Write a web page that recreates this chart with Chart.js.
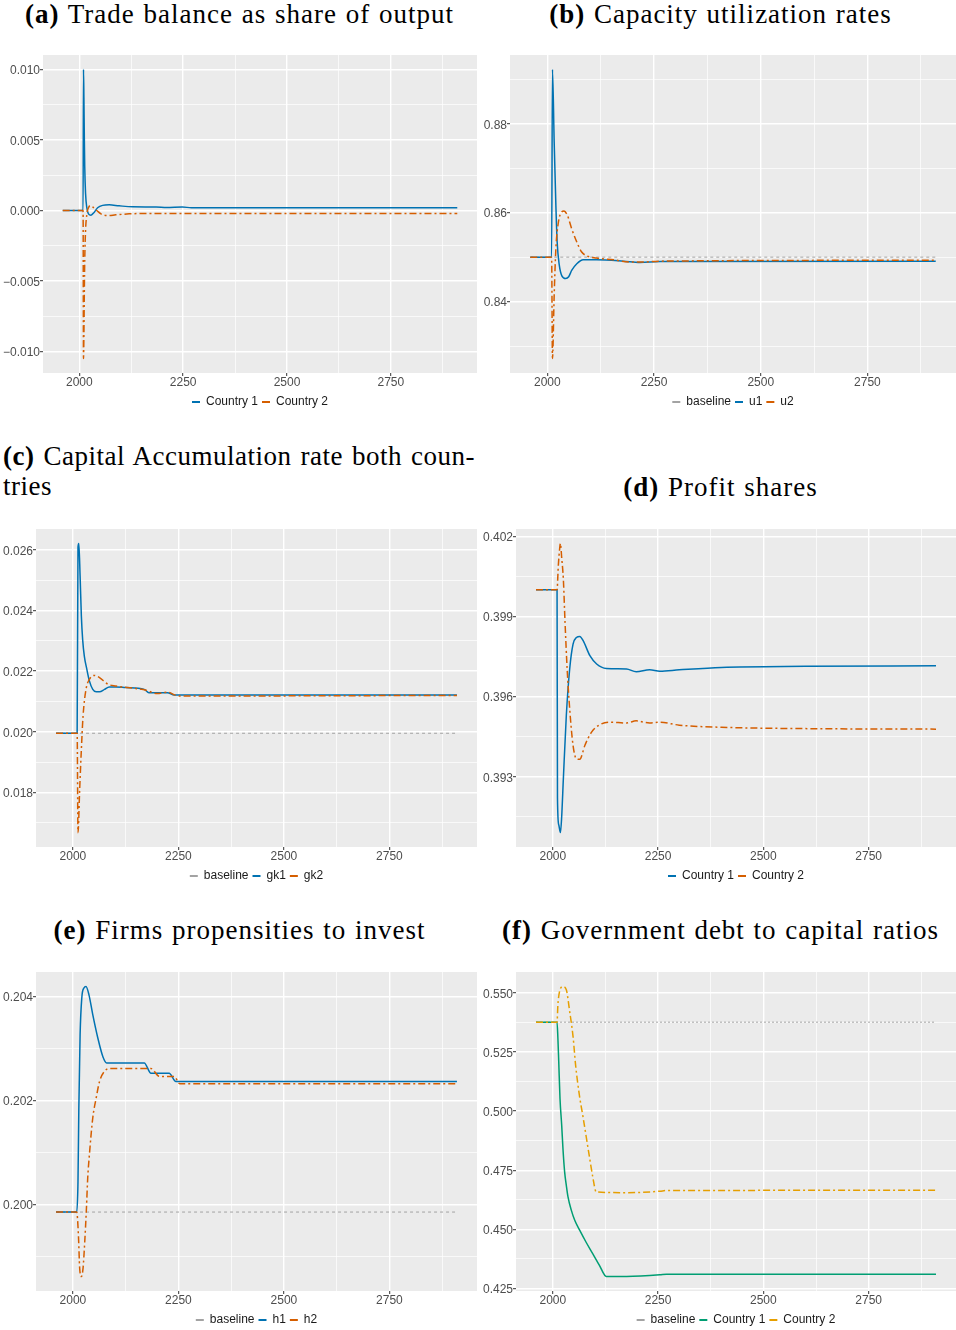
<!DOCTYPE html>
<html lang="en">
<head>
<meta charset="utf-8">
<title>Two-country simulation</title>
<script src="https://cdn.jsdelivr.net/npm/chart.js@4.4.1/dist/chart.umd.min.js"></script>
<style>
  html, body { margin: 0; padding: 0; background: #ffffff; }
  #page { position: relative; width: 956px; height: 1330px; overflow: hidden; }
  .title {
    position: absolute;
    font-family: 'Liberation Serif', 'Times New Roman', serif;
    font-size: 27px;
    line-height: 30px;
    letter-spacing: 1px;
    word-spacing: 1px;
    color: #000000;
    text-align: center;
    white-space: nowrap;
  }
  .panel { position: absolute; }
  .panel canvas { display: block; }
</style>
</head>
<body>
<div id="page">
  <div class="title" style="left:0;top:-1px;width:479px"><b>(a)</b> Trade balance as share of output</div>
  <div class="title" style="left:481px;top:-1px;width:479px"><b>(b)</b> Capacity utilization rates</div>
  <div class="title" style="left:3px;top:441px;width:472px;text-align:left;letter-spacing:0.5px;word-spacing:0">
    <div style="text-align:justify;text-align-last:justify">
      <b>(c)</b> Capital Accumulation rate both coun-</div>
    <div>tries</div>
  </div>
  <div class="title" style="left:481px;top:472px;width:479px"><b>(d)</b> Profit shares</div>
  <div class="title" style="left:0;top:915px;width:479px"><b>(e)</b> Firms propensities to invest</div>
  <div class="title" style="left:481px;top:915px;width:479px"><b>(f)</b> Government debt to capital ratios</div>

  <div class="panel" style="left:0;top:55px"><canvas id="chart-a" width="477" height="363"></canvas></div>
  <div class="panel" style="left:477px;top:55px"><canvas id="chart-b" width="479" height="363"></canvas></div>
  <div class="panel" style="left:0;top:529px"><canvas id="chart-c" width="477" height="363"></canvas></div>
  <div class="panel" style="left:477px;top:529px"><canvas id="chart-d" width="479" height="363"></canvas></div>
  <div class="panel" style="left:0;top:972px"><canvas id="chart-e" width="477" height="364"></canvas></div>
  <div class="panel" style="left:477px;top:972px"><canvas id="chart-f" width="479" height="364"></canvas></div>
</div>

<script>
// time axis shared by all six panels
const yearRange = [1960, 2910];
const yearTicks = [2000, 2250, 2500, 2750];

// (a) trade balance as share of output
const tbYears1 = [1960, 2009, 2010, 2011, 2012, 2013, 2015, 2018, 2022, 2028, 2036, 2044, 2056, 2072, 2096, 2128, 2185, 2210, 2248, 2270, 2910];
const tbCountry1 = [0, 0, 0.0100, 0.0080, 0.0052, 0.0031, 0.0012, 0.0002, -0.00024, -0.00033, -0.00012, 0.00019, 0.00036, 0.0004, 0.00033, 0.00026, 0.00025, 0.00021, 0.00024, 0.0002, 0.0002];
const tbYears2 = [1960, 2009, 2010, 2011, 2012, 2013, 2015, 2018, 2022, 2028, 2034, 2042, 2052, 2068, 2088, 2120, 2190, 2910];
const tbCountry2 = [0, 0, -0.0105, -0.0088, -0.0058, -0.0035, -0.0014, -0.0003, 0.0002, 0.00035, 0.0002, 0, -0.00024, -0.00036, -0.00031, -0.00024, -0.00021, -0.00021];
const tbTicks = [-0.010, -0.005, 0, 0.005, 0.010];

// (b) capacity utilization rates
const cuBaseline = 0.85;
const cuYears1 = [1960, 2010, 2012, 2016, 2020, 2023, 2028, 2034, 2043, 2050, 2057, 2069, 2084, 2115, 2178, 2217, 2264, 2910];
const cuU1 = [0.85, 0.85, 0.8922, 0.8759, 0.8616, 0.8534, 0.8482, 0.8458, 0.8452, 0.8456, 0.847, 0.8485, 0.8494, 0.8494, 0.8491, 0.8488, 0.849, 0.8491];
const cuYears2 = [1960, 2010, 2012, 2016, 2020, 2026, 2034, 2039, 2047, 2057, 2069, 2080, 2092, 2115, 2155, 2193, 2225, 2264, 2910];
const cuU2 = [0.85, 0.85, 0.8272, 0.8414, 0.8519, 0.8579, 0.8602, 0.8604, 0.8594, 0.8564, 0.8534, 0.8512, 0.8503, 0.8498, 0.8494, 0.8489, 0.8489, 0.8491, 0.8493];
const cuTicks = [0.84, 0.86, 0.88];

// (c) capital accumulation rates
const gkBaseline = 0.01995;
const gkYears1 = [1960, 2010, 2012, 2014, 2017, 2020, 2023, 2027, 2033, 2039, 2047, 2055, 2063, 2075, 2086, 2102, 2125, 2169, 2180, 2224, 2240, 2910];
const gkValues1 = [0.01995, 0.01995, 0.0261, 0.02622, 0.02514, 0.02382, 0.02305, 0.0225, 0.02206, 0.02168, 0.0214, 0.02132, 0.02132, 0.0214, 0.02148, 0.02148, 0.02146, 0.0214, 0.02129, 0.02129, 0.02121, 0.02121];
const gkYears2 = [1960, 2010, 2012, 2016, 2020, 2024, 2031, 2039, 2051, 2063, 2083, 2102, 2149, 2173, 2200, 2224, 2244, 2255, 2910];
const gkValues2 = [0.01995, 0.01995, 0.01667, 0.0181, 0.01942, 0.02052, 0.0214, 0.02173, 0.02186, 0.02179, 0.02157, 0.02151, 0.02143, 0.02137, 0.02126, 0.02131, 0.0212, 0.02118, 0.0212];
const gkTicks = [0.018, 0.020, 0.022, 0.024, 0.026];

// (d) profit shares
const psYears1 = [1960, 2010, 2011, 2014, 2018, 2021, 2025, 2032, 2040, 2048, 2056, 2064, 2072, 2088, 2104, 2127, 2175, 2198, 2230, 2254, 2300, 2400, 2600, 2910];
const psCountry1 = [0.4, 0.4, 0.3922, 0.3912, 0.39091, 0.3915, 0.39293, 0.39529, 0.39703, 0.39796, 0.39821, 0.39825, 0.39809, 0.39753, 0.39722, 0.39705, 0.39703, 0.39693, 0.397, 0.39695, 0.397, 0.39709, 0.39713, 0.39715];
const psYears2 = [1960, 2010, 2013, 2016, 2018, 2021, 2025, 2029, 2034, 2040, 2048, 2056, 2064, 2076, 2092, 2111, 2135, 2175, 2198, 2230, 2254, 2300, 2400, 2600, 2910];
const psCountry2 = [0.4, 0.4, 0.4009, 0.4015, 0.40173, 0.4012, 0.40038, 0.39877, 0.39703, 0.39554, 0.39417, 0.39367, 0.39365, 0.39417, 0.39467, 0.39494, 0.39504, 0.39501, 0.39509, 0.39501, 0.39504, 0.39493, 0.39485, 0.3948, 0.39478];
const psTicks = [0.393, 0.396, 0.399, 0.402];

// (e) firms propensities to invest
const hBaseline = 0.19985;
const hYears1 = [1960, 2009, 2012, 2014, 2017, 2021, 2026, 2031, 2038, 2047, 2059, 2071, 2080, 2169, 2185, 2228, 2244, 2910];
const hValues1 = [0.19985, 0.19985, 0.20044, 0.20185, 0.20326, 0.20397, 0.20416, 0.20419, 0.20403, 0.20365, 0.2032, 0.20284, 0.20272, 0.20272, 0.20252, 0.20252, 0.20236, 0.20236];
const hYears2 = [1960, 2009, 2013, 2016, 2020, 2024, 2028, 2032, 2035, 2039, 2047, 2055, 2063, 2075, 2087, 2185, 2205, 2240, 2253, 2910];
const hValues2 = [0.19985, 0.19985, 0.19941, 0.19877, 0.19861, 0.19877, 0.19928, 0.19992, 0.2005, 0.20095, 0.20166, 0.20204, 0.20236, 0.20256, 0.20261, 0.20261, 0.20246, 0.20246, 0.20232, 0.20232];
const hTicks = [0.200, 0.202, 0.204];

// (f) government debt to capital ratios
const gdBaseline = 0.5377;
const gdYears1 = [1960, 2010, 2012, 2014, 2017, 2021, 2024, 2028, 2032, 2036, 2044, 2052, 2064, 2079, 2095, 2111, 2127, 2175, 2254, 2270, 2910];
const gdCountry1 = [0.5377, 0.5377, 0.5309, 0.521, 0.5054, 0.4941, 0.4842, 0.4743, 0.4686, 0.4637, 0.458, 0.4538, 0.4495, 0.4445, 0.4396, 0.4346, 0.43, 0.43, 0.4307, 0.431, 0.431];
const gdYears2 = [1960, 2010, 2012, 2016, 2024, 2032, 2040, 2048, 2054, 2063, 2071, 2087, 2095, 2103, 2175, 2254, 2270, 2910];
const gdCountry2 = [0.5377, 0.5377, 0.545, 0.5507, 0.5528, 0.5514, 0.5422, 0.5316, 0.5196, 0.5068, 0.4983, 0.4806, 0.472, 0.4658, 0.4655, 0.4661, 0.4664, 0.4665];
const gdTicks = [0.425, 0.450, 0.475, 0.500, 0.525, 0.550];

// line styles
const solidBlue = { color: '#0072B2', width: 1.5, dash: [] };
const dotdashRed = { color: '#D55E00', width: 1.5, dash: [7, 3, 2, 3] };
const solidGreen = { color: '#009E73', width: 1.5, dash: [] };
const dotdashOrange = { color: '#E69F00', width: 1.5, dash: [7, 3, 2, 3] };
const dashedGray = { color: '#A3A3A3', width: 1, dash: [3, 3] };
const dottedGray = { color: '#A3A3A3', width: 1, dash: [2, 2] };

Chart.defaults.font.family = "'Liberation Sans', Arial, sans-serif";
Chart.defaults.font.size = 12;

// grey panel behind the grid, like ggplot's theme_grey
const panelBackground = {
  id: 'panelBackground',
  beforeDraw(chart) {
    const area = chart.chartArea;
    const ctx = chart.ctx;
    ctx.save();
    ctx.fillStyle = '#EBEBEB';
    ctx.fillRect(area.left, area.top, area.width, area.height);
    ctx.restore();
  }
};

function toPoints(years, values) {
  return years.map((yr, i) => ({ x: yr, y: values[i] }));
}

// major ticks plus the minor grid halfway between them
function gridTicks(major, lo, hi, fmt) {
  const half = (major[1] - major[0]) / 2;
  const ticks = [];
  for (let k = -1; k <= 2 * major.length - 1; k++) {
    const value = major[0] + k * half;
    if (value < lo || value > hi) continue;
    const isMajor = k % 2 === 0;
    ticks.push({ value: value, isMajor: isMajor, text: isMajor ? fmt(major[k / 2]) : '' });
  }
  return ticks;
}

function axisGrid() {
  return {
    color: '#FFFFFF',
    lineWidth: ctx => (ctx.tick && ctx.tick.isMajor ? 1.4 : 0.7),
    tickLength: 3,
    tickWidth: 1,
    tickColor: ctx => (ctx.tick && ctx.tick.isMajor ? '#333333' : 'rgba(0,0,0,0)')
  };
}

function makeChart(canvasId, yAxisWidth, yMajor, digits, series) {
  const allValues = [].concat(...series.map(s => s.values));
  const lo = Math.min(...allValues);
  const hi = Math.max(...allValues);
  const yMin = lo - (hi - lo) * 0.05;
  const yMax = hi + (hi - lo) * 0.05;
  const xPad = (yearRange[1] - yearRange[0]) * 0.05;
  const xMin = yearRange[0] - xPad;
  const xMax = yearRange[1] + xPad;

  const xTicks = gridTicks(yearTicks, xMin, xMax, v => String(v));
  const yTicks = gridTicks(yMajor, yMin, yMax, v => v.toFixed(digits).replace('-', '\u2212'));

  const datasets = series.map((s, i) => ({
    label: s.label,
    data: toPoints(s.years, s.values),
    borderColor: s.style.color,
    backgroundColor: s.style.color,
    borderWidth: s.style.width,
    borderDash: s.style.dash,
    pointRadius: 0,
    fill: false,
    cubicInterpolationMode: 'monotone',
    order: series.length - 1 - i
  }));

  return new Chart(document.getElementById(canvasId), {
    type: 'line',
    data: { datasets: datasets },
    plugins: [panelBackground],
    options: {
      responsive: false,
      animation: false,
      events: [],
      layout: { padding: 0 },
      scales: {
        x: {
          type: 'linear',
          min: xMin,
          max: xMax,
          bounds: 'data',
          afterBuildTicks: scale => { scale.ticks = xTicks.map(t => Object.assign({}, t)); },
          afterFit: scale => { scale.height = 19; scale.paddingLeft = 0; scale.paddingRight = 0; },
          ticks: {
            autoSkip: false,
            maxRotation: 0,
            padding: 1,
            color: '#4D4D4D',
            font: { size: 12, lineHeight: 1 },
            callback: (value, index, ticks) => ticks[index].text
          },
          grid: axisGrid(),
          border: { display: false }
        },
        y: {
          type: 'linear',
          min: yMin,
          max: yMax,
          bounds: 'data',
          afterBuildTicks: scale => { scale.ticks = yTicks.map(t => Object.assign({}, t)); },
          afterFit: scale => { scale.width = yAxisWidth; scale.paddingTop = 0; scale.paddingBottom = 0; },
          ticks: {
            autoSkip: false,
            padding: 0,
            labelOffset: 1.5,
            color: '#4D4D4D',
            font: { size: 12 },
            callback: (value, index, ticks) => ticks[index].text
          },
          grid: axisGrid(),
          border: { display: false }
        }
      },
      plugins: {
        title: { display: false },
        tooltip: { enabled: false },
        legend: {
          position: 'bottom',
          fullSize: false,
          labels: {
            color: '#1A1A1A',
            font: { size: 12 },
            boxWidth: 8,
            boxHeight: 2,
            padding: 4,
            sort: (a, b) => a.datasetIndex - b.datasetIndex,
            generateLabels: chart => Chart.defaults.plugins.legend.labels.generateLabels(chart)
              .map(item => Object.assign(item, { lineWidth: 0, lineDash: [] }))
          }
        }
      }
    }
  });
}

makeChart('chart-a', 43, tbTicks, 3, [
  { label: 'Country 1', years: tbYears1, values: tbCountry1, style: solidBlue },
  { label: 'Country 2', years: tbYears2, values: tbCountry2, style: dotdashRed }
]);

makeChart('chart-b', 33, cuTicks, 2, [
  { label: 'baseline', years: yearRange, values: [cuBaseline, cuBaseline], style: dashedGray },
  { label: 'u1', years: cuYears1, values: cuU1, style: solidBlue },
  { label: 'u2', years: cuYears2, values: cuU2, style: dotdashRed }
]);

makeChart('chart-c', 36, gkTicks, 3, [
  { label: 'baseline', years: yearRange, values: [gkBaseline, gkBaseline], style: dashedGray },
  { label: 'gk1', years: gkYears1, values: gkValues1, style: solidBlue },
  { label: 'gk2', years: gkYears2, values: gkValues2, style: dotdashRed }
]);

makeChart('chart-d', 39, psTicks, 3, [
  { label: 'Country 1', years: psYears1, values: psCountry1, style: solidBlue },
  { label: 'Country 2', years: psYears2, values: psCountry2, style: dotdashRed }
]);

makeChart('chart-e', 36, hTicks, 3, [
  { label: 'baseline', years: yearRange, values: [hBaseline, hBaseline], style: dashedGray },
  { label: 'h1', years: hYears1, values: hValues1, style: solidBlue },
  { label: 'h2', years: hYears2, values: hValues2, style: dotdashRed }
]);

makeChart('chart-f', 39, gdTicks, 3, [
  { label: 'baseline', years: yearRange, values: [gdBaseline, gdBaseline], style: dottedGray },
  { label: 'Country 1', years: gdYears1, values: gdCountry1, style: solidGreen },
  { label: 'Country 2', years: gdYears2, values: gdCountry2, style: dotdashOrange }
]);
</script>
</body>
</html>
